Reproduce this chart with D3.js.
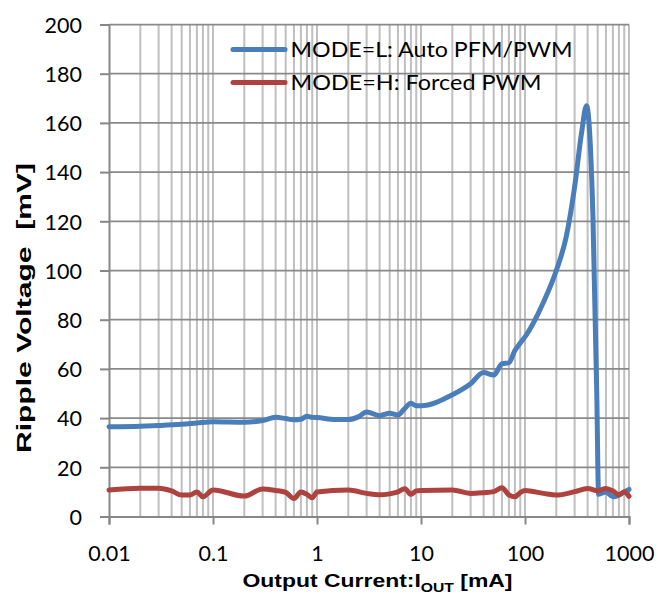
<!DOCTYPE html>
<html><head><meta charset="utf-8">
<script src="https://cdn.jsdelivr.net/npm/d3@7"></script>
<style>
html,body{margin:0;padding:0;background:#fff;}
svg{display:block;}
</style></head>
<body>
<svg id="chart" width="658" height="595"></svg>
<script>
// ---- data ----
const seriesNames = ["MODE=L: Auto PFM/PWM", "MODE=H: Forced PWM"];
const blueX = [0.01,0.02,0.03,0.05,0.07,0.1,0.2,0.3,0.4,0.5,0.6,0.7,0.8,0.9,1,1.5,2,2.5,3,4,5,6,7,8,9,10,20,30,40,50,60,70,80,90,100,150,200,250,300,350,390,450,490,510,600,700,800,900,1000];
const blueY = [36.5,36.7,37,37.5,38,38.5,38.3,39,40.3,39.8,39.3,39.5,40.8,40.3,40.2,39.4,39.4,40.5,42.5,41,42,41.3,44,46,45,45,49.5,54,58.5,57.5,62,62.5,67.5,70.5,73,87,100,114,134,156,167,122,50,9,10,8,8.7,10,11];
const redX = [0.01,0.02,0.03,0.04,0.05,0.06,0.07,0.08,0.1,0.2,0.3,0.4,0.5,0.6,0.7,0.8,0.9,1,2,3,4,5,6,7,8,9,10,20,30,40,50,60,70,80,90,100,150,200,300,400,500,600,700,800,900,1000];
const redY = [10.8,11.5,11.5,10.4,8.7,8.7,10,8,10.8,8.3,11.2,10.6,9.8,7.3,10,9,7.6,10,10.8,9.4,8.8,9.2,10,11.3,9,10.4,10.6,10.8,9.4,9.7,10.1,11.7,8.8,8,9.7,10.6,9.4,8.7,10.1,11.4,10.5,11.4,10.4,8.8,10,8.2];
const xTicks = [0.01,0.1,1,10,100,1000];
const xTickLabels = ["0.01","0.1","1","10","100","1000"];
const yTicks = [0,20,40,60,80,100,120,140,160,180,200];

// ---- layout ----
const svg = d3.select("#chart");
const L = 109, R = 629, T = 24.5, B = 516.5;
const x = d3.scaleLog().domain([0.01,1000]).range([L,R]);
const y = d3.scaleLinear().domain([0,200]).range([B,T]);
const tickFont = "Lato, 'Open Sans', sans-serif";
const titleFont = "'Liberation Sans', Arial, sans-serif";

// vertical minor gridlines (all 1..9 x decades)
const vLines = [];
for (let e=-2;e<=2;e++) for (let m=1;m<=9;m++) vLines.push(m*Math.pow(10,e));
vLines.push(1000);
svg.append("g").selectAll("line").data(vLines.filter(v=>v>0.01)).join("line")
  .attr("x1",d=>x(d)).attr("x2",d=>x(d)).attr("y1",T).attr("y2",B)
  .attr("stroke","#bfbfbf").attr("stroke-width",2);

// horizontal gridlines
svg.append("g").selectAll("line").data(yTicks.filter(v=>v>0)).join("line")
  .attr("x1",L).attr("x2",R).attr("y1",d=>y(d)).attr("y2",d=>y(d))
  .attr("stroke","#898989").attr("stroke-width",1.75);

// axes
const yAxis = svg.append("g").attr("transform",`translate(${L},0)`)
  .call(d3.axisLeft(y).tickValues(yTicks).tickSize(9).tickPadding(18).tickFormat(d3.format("d")));
const xAxis = svg.append("g").attr("transform",`translate(0,${B})`)
  .call(d3.axisBottom(x).tickValues(xTicks).tickSize(8).tickPadding(20).tickFormat((d,i)=>xTickLabels[i]));
[yAxis,xAxis].forEach(g=>{
  g.select(".domain").attr("stroke","#878787").attr("stroke-width",2);
  g.selectAll(".tick line").attr("stroke","#878787").attr("stroke-width",2);
  g.selectAll(".tick text").attr("font-family",tickFont).attr("font-size",21.5).attr("fill","#000");
});
yAxis.selectAll(".tick text").attr("dy","0.36em");
xAxis.selectAll(".tick text").attr("dy","0.75em");

// lines
const line = d3.line().x(d=>x(d[0])).y(d=>y(d[1])).curve(d3.curveMonotoneX);
svg.append("path").datum(blueX.map((v,i)=>[v,blueY[i]]))
  .attr("d",line).attr("fill","none").attr("stroke","#4a7ebb").attr("stroke-width",5)
  .attr("stroke-linejoin","round").attr("stroke-linecap","round");
svg.append("path").datum(redX.map((v,i)=>[v,redY[i]]))
  .attr("d",line).attr("fill","none").attr("stroke","#ae423e").attr("stroke-width",5)
  .attr("stroke-linejoin","round").attr("stroke-linecap","round");

// legend
const legColors = ["#4a7ebb","#ae423e"];
const legLen = [282, 251];
const leg = svg.append("g");
seriesNames.forEach((n,i)=>{
  const yy = 49.5 + i*33;
  leg.append("line").attr("x1",233).attr("x2",285).attr("y1",yy).attr("y2",yy)
    .attr("stroke",legColors[i]).attr("stroke-width",5).attr("stroke-linecap","round");
  leg.append("text").attr("x",290.5).attr("y",yy).attr("dy","0.36em")
    .attr("font-family",tickFont).attr("font-size",22).attr("fill","#000")
    .attr("textLength",legLen[i]).attr("lengthAdjust","spacingAndGlyphs").text(n);
});

// axis titles
const xt = svg.append("text").attr("x",242.5).attr("y",587)
  .attr("font-family",titleFont).attr("font-weight","bold").attr("font-size",19).attr("fill","#000")
  .attr("textLength",270).attr("lengthAdjust","spacingAndGlyphs");
xt.append("tspan").text("Output Current:I");
xt.append("tspan").attr("font-size",13).attr("dy",5).text("OUT");
xt.append("tspan").attr("dy",-5).text(" [mA]");

svg.append("text").attr("transform","translate(31,453) rotate(-90)")
  .attr("font-family",titleFont).attr("font-weight","bold").attr("font-size",21).attr("fill","#000")
  .attr("textLength",290).attr("lengthAdjust","spacingAndGlyphs")
  .style("white-space","pre").text("Ripple Voltage  [mV]");
</script>
</body></html>
